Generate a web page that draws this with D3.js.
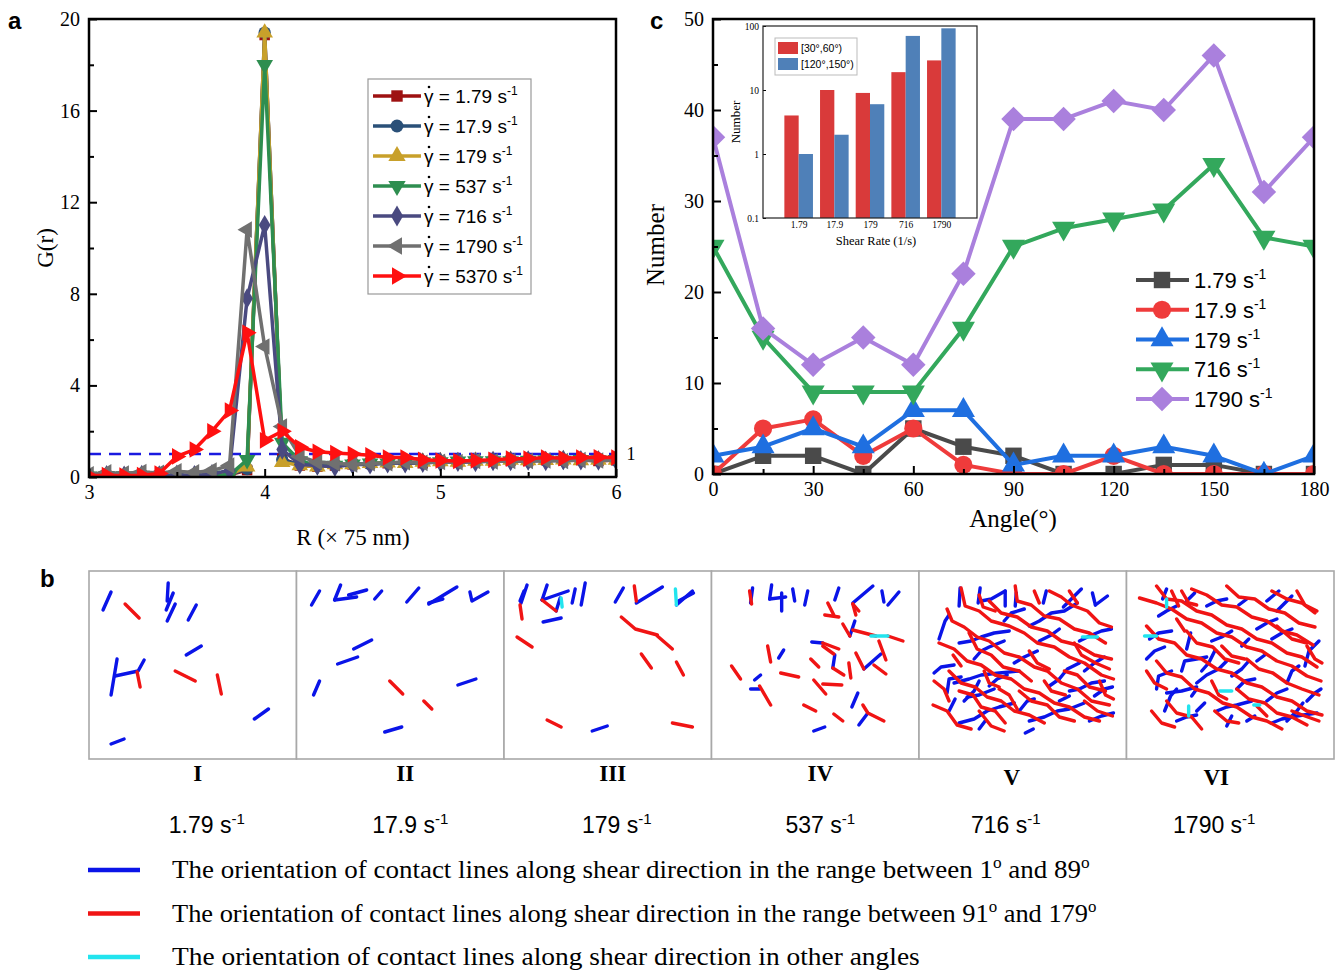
<!DOCTYPE html>
<html>
<head>
<meta charset="utf-8">
<title>Contact network under shear</title>
<script src="https://cdn.jsdelivr.net/npm/d3@7/dist/d3.min.js"></script>
<style>
  html, body { margin: 0; padding: 0; background: #fff; }
  svg { display: block; }
</style>
</head>
<body>
<svg id="fig" width="1344" height="974"></svg>
<script>
// ===== Panel a: radial distribution function G(r) =====
const rValues = [3.0, 3.1, 3.2, 3.3, 3.4, 3.5, 3.6, 3.7, 3.8, 3.9, 4.0, 4.1, 4.2, 4.3, 4.4, 4.5,
                 4.6, 4.7, 4.8, 4.9, 5.0, 5.1, 5.2, 5.3, 5.4, 5.5, 5.6, 5.7, 5.8, 5.9, 6.0];
const grShearRates = ["1.79", "17.9", "179", "537", "716", "1790", "5370"];
const gr_1_79 = [0.02, 0.05, 0.03, 0.06, 0.04, 0.05, 0.07, 0.05, 0.1, 0.3, 19.3, 0.8, 0.5, 0.45, 0.5, 0.55,
                 0.6, 0.6, 0.65, 0.6, 0.7, 0.65, 0.7, 0.7, 0.72, 0.7, 0.75, 0.72, 0.75, 0.7, 0.74];
const gr_17_9 = [0.03, 0.04, 0.06, 0.03, 0.05, 0.06, 0.04, 0.07, 0.12, 0.35, 19.4, 0.75, 0.55, 0.5, 0.5, 0.6,
                 0.55, 0.65, 0.6, 0.65, 0.65, 0.7, 0.68, 0.72, 0.7, 0.74, 0.72, 0.75, 0.73, 0.76, 0.72];
const gr_179 = [0.04, 0.06, 0.05, 0.05, 0.06, 0.04, 0.06, 0.06, 0.1, 0.45, 19.4, 0.65, 0.5, 0.45, 0.55, 0.55,
                0.6, 0.62, 0.6, 0.66, 0.68, 0.66, 0.7, 0.7, 0.74, 0.72, 0.73, 0.76, 0.72, 0.75, 0.74];
const gr_537 = [0.03, 0.05, 0.04, 0.06, 0.05, 0.06, 0.05, 0.07, 0.08, 0.75, 18.0, 1.5, 0.7, 0.5, 0.5, 0.55,
                0.6, 0.6, 0.62, 0.65, 0.65, 0.68, 0.7, 0.7, 0.7, 0.72, 0.74, 0.72, 0.75, 0.74, 0.75];
const gr_716 = [0.05, 0.08, 0.06, 0.09, 0.07, 0.1, 0.08, 0.12, 0.3, 7.8, 11.0, 1.2, 0.55, 0.5, 0.45, 0.55,
                0.55, 0.6, 0.6, 0.62, 0.65, 0.66, 0.65, 0.7, 0.7, 0.72, 0.7, 0.74, 0.73, 0.72, 0.75];
const gr_1790 = [0.12, 0.2, 0.15, 0.22, 0.18, 0.25, 0.2, 0.28, 0.5, 10.8, 5.7, 2.2, 0.9, 0.65, 0.6, 0.55,
                 0.6, 0.6, 0.65, 0.62, 0.66, 0.65, 0.7, 0.68, 0.7, 0.7, 0.72, 0.7, 0.74, 0.72, 0.74];
const gr_5370 = [0.05, 0.08, 0.06, 0.08, 0.15, 0.9, 1.2, 2.0, 2.9, 6.3, 1.6, 2.0, 1.3, 1.1, 1.05, 1.0,
                 0.95, 0.85, 0.85, 0.75, 0.72, 0.7, 0.72, 0.75, 0.8, 0.8, 0.85, 0.82, 0.85, 0.86, 0.85];
const grTicks = [0, 4, 8, 12, 16, 20];
const rTicks = [3, 4, 5, 6];

// ===== Panel c: number of contact lines per orientation angle =====
const angleValues = [0, 15, 30, 45, 60, 75, 90, 105, 120, 135, 150, 165, 180];
const angleShearRates = ["1.79", "17.9", "179", "716", "1790"];
const count_1_79 = [0, 2, 2, 0, 5, 3, 2, 0, 0, 1, 1, 0, 0];
const count_17_9 = [0, 5, 6, 2, 5, 1, 0, 0, 2, 0, 0, 0, 0];
const count_179 = [2, 3, 5, 3, 7, 7, 1, 2, 2, 3, 2, 0, 2];
const count_716 = [25, 15, 9, 9, 9, 16, 25, 27, 28, 29, 34, 26, 25];
const count_1790 = [37, 16, 12, 15, 12, 22, 39, 39, 41, 40, 46, 31, 37];
const angleTicks = [0, 30, 60, 90, 120, 150, 180];
const countTicks = [0, 10, 20, 30, 40, 50];

// inset: contacts inside two angular windows (log scale)
const insetRates = ["1.79", "17.9", "179", "716", "1790"];
const insetWindows = ["[30\u00b0,60\u00b0)", "[120\u00b0,150\u00b0)"];
const window_30_60 = [4, 10, 9, 19, 29];
const window_120_150 = [1, 2, 6, 70, 92];
const insetTicks = [0.1, 1, 10, 100];

// ===== Panel b: contact-line snapshots =====
// each contact: [orientation class, x0, y0, x1, y1, ...] in box units (207 x 188, y downward)
// A = 1°..89°, O = 91°..179°, X = other angles
const snapshotLabels = ["I", "II", "III", "IV", "V", "VI"];
const snapshotRates = ["1.79", "17.9", "179", "537", "716", "1790"];
const contactsI = [
  ["A", 14, 39, 22, 21], ["O", 36, 33, 50, 47], ["A", 78, 30, 79, 12], ["A", 77, 39, 84, 22],
  ["A", 78, 50, 86, 33], ["A", 99, 49, 107, 34], ["A", 97, 84, 112, 75], ["A", 22, 124, 28, 88],
  ["A", 26, 105, 49, 100, 55, 89], ["O", 48, 101, 51, 116], ["O", 86, 100, 106, 110],
  ["O", 128, 104, 132, 123], ["A", 165, 148, 179, 138], ["A", 22, 173, 35, 168]
];
const contactsII = [
  ["A", 15, 34, 23, 20], ["A", 38, 29, 44, 14], ["A", 38, 29, 60, 26], ["A", 52, 24, 70, 19],
  ["A", 78, 28, 85, 20], ["A", 110, 31, 122, 17], ["A", 132, 33, 160, 16], ["A", 132, 32, 146, 28],
  ["A", 173, 21, 175, 30, 191, 21], ["A", 57, 78, 75, 69], ["A", 41, 93, 61, 86], ["A", 17, 124, 23, 110],
  ["O", 93, 110, 106, 123], ["O", 127, 130, 135, 138], ["A", 161, 114, 179, 108], ["A", 88, 161, 105, 156]
];
const contactsIII = [
  ["A", 17, 32, 23, 14], ["A", 16, 30, 20, 20], ["O", 16, 34, 18, 48], ["A", 38, 29, 43, 14],
  ["A", 38, 29, 64, 20], ["O", 38, 29, 52, 40], ["A", 52, 40, 56, 27], ["X", 57, 27, 58, 36],
  ["A", 68, 32, 71, 18], ["A", 77, 34, 81, 12], ["A", 111, 31, 119, 17], ["O", 130, 15, 132, 30],
  ["A", 132, 32, 158, 16], ["X", 171, 18, 172, 34], ["A", 172, 34, 188, 20], ["A", 174, 30, 189, 22],
  ["A", 39, 51, 57, 47], ["O", 13, 66, 28, 76], ["O", 117, 46, 131, 58, 153, 64], ["O", 153, 65, 168, 78],
  ["O", 137, 83, 147, 97], ["O", 172, 91, 179, 104], ["O", 43, 149, 57, 156], ["A", 88, 160, 103, 155],
  ["O", 168, 152, 188, 156]
];
const contactsIV = [
  ["O", 38, 20, 40, 33], ["A", 39, 32, 41, 17], ["A", 58, 28, 60, 14], ["A", 58, 28, 74, 26],
  ["A", 70, 40, 70, 22], ["A", 81, 18, 83, 30], ["A", 93, 34, 96, 20], ["A", 123, 29, 127, 17],
  ["A", 141, 32, 161, 15], ["A", 138, 65, 143, 50], ["A", 170, 20, 172, 31], ["A", 176, 34, 187, 21],
  ["O", 116, 32, 122, 44], ["O", 113, 44, 127, 46], ["O", 141, 33, 144, 44], ["O", 141, 33, 147, 40],
  ["O", 131, 53, 138, 65], ["O", 141, 59, 164, 65], ["X", 159, 65, 176, 65], ["O", 176, 65, 191, 70],
  ["A", 100, 71, 111, 72], ["O", 111, 72, 127, 78], ["O", 111, 75, 122, 83], ["O", 56, 75, 59, 91],
  ["A", 67, 87, 72, 79], ["O", 20, 95, 29, 108], ["A", 43, 109, 49, 104], ["A", 39, 118, 48, 118],
  ["O", 48, 115, 59, 134], ["O", 69, 102, 87, 106], ["O", 99, 88, 107, 96], ["A", 121, 97, 123, 84],
  ["O", 121, 97, 132, 104], ["O", 137, 92, 139, 107], ["O", 144, 82, 152, 98], ["A", 152, 98, 169, 83],
  ["O", 162, 94, 174, 103], ["O", 167, 70, 174, 89], ["O", 102, 109, 114, 123], ["O", 111, 113, 130, 114],
  ["A", 140, 136, 146, 122], ["O", 92, 134, 104, 140], ["O", 122, 143, 131, 150],
  ["O", 151, 134, 156, 142, 172, 150], ["A", 147, 154, 156, 142], ["A", 102, 160, 113, 156]
];
const contactsV = [
  ["O", 28, 38, 33, 50, 45, 56, 58, 66, 70, 70, 85, 82, 100, 86, 115, 96, 128, 100, 142, 112, 158, 118, 172, 130, 190, 134],
  ["O", 42, 17, 46, 35, 60, 40, 72, 50, 90, 55, 105, 62, 118, 72, 135, 76, 150, 86, 165, 92, 182, 104, 194, 108],
  ["O", 96, 15, 98, 30, 112, 34, 125, 45, 140, 48, 155, 58, 170, 62, 186, 72],
  ["O", 70, 30, 82, 42, 98, 46, 112, 56, 128, 60, 142, 70, 158, 74, 175, 84, 192, 88],
  ["O", 20, 72, 35, 78, 48, 90, 62, 94, 76, 104, 92, 108, 105, 118, 120, 122, 135, 132, 150, 136, 165, 146, 180, 150],
  ["O", 30, 100, 42, 112, 56, 116, 68, 126, 82, 130, 95, 140, 110, 144, 125, 152],
  ["O", 14, 134, 28, 140, 38, 154, 52, 158],
  ["O", 40, 120, 54, 124, 62, 136, 76, 140, 86, 152],
  ["O", 50, 62, 58, 78, 72, 84, 84, 96, 100, 100, 112, 110],
  ["O", 130, 20, 142, 26, 152, 34, 168, 40, 180, 52, 192, 56],
  ["O", 100, 120, 112, 130, 128, 134, 140, 146, 155, 150],
  ["O", 145, 100, 158, 104, 170, 116, 186, 120],
  ["O", 165, 130, 178, 140, 193, 145],
  ["O", 60, 140, 72, 155, 85, 160],
  ["O", 80, 118, 90, 124, 98, 138],
  ["O", 155, 72, 162, 84, 176, 92, 190, 98],
  ["O", 34, 84, 42, 95], ["O", 110, 80, 118, 92, 130, 98], ["O", 60, 24, 64, 36, 76, 40],
  ["O", 125, 110, 132, 120, 146, 124], ["O", 15, 110, 25, 118, 30, 130], ["O", 115, 20, 120, 32],
  ["O", 180, 110, 186, 124, 194, 128], ["O", 150, 20, 158, 32], ["O", 65, 100, 70, 112, 80, 116],
  ["A", 40, 35, 41, 17], ["A", 59, 32, 61, 17], ["A", 62, 30, 72, 28, 86, 20], ["A", 86, 35, 86, 20],
  ["A", 96, 35, 97, 22], ["A", 124, 32, 127, 20], ["A", 144, 36, 152, 28, 162, 18], ["A", 176, 34, 188, 25],
  ["A", 173, 22, 176, 34], ["A", 20, 68, 26, 50, 30, 44], ["A", 40, 72, 52, 70, 62, 66, 75, 62, 90, 60],
  ["A", 35, 112, 50, 108, 62, 104, 80, 102, 100, 100], ["A", 55, 88, 62, 80, 70, 76, 85, 70],
  ["A", 110, 55, 120, 50, 132, 42, 145, 40, 158, 32], ["A", 160, 70, 170, 65, 182, 60, 192, 58],
  ["A", 45, 130, 55, 120, 60, 110], ["A", 40, 152, 55, 148, 68, 140, 80, 136, 95, 132],
  ["A", 110, 150, 125, 146, 138, 140, 150, 138, 165, 132], ["A", 130, 115, 140, 108, 148, 98, 160, 92],
  ["A", 170, 150, 182, 145, 194, 142], ["A", 106, 162, 114, 158], ["A", 70, 115, 78, 108, 88, 104],
  ["A", 150, 120, 160, 118, 172, 112, 185, 110], ["A", 140, 130, 150, 125], ["A", 28, 122, 30, 108, 42, 106],
  ["A", 15, 102, 22, 96, 35, 94], ["A", 48, 126, 60, 124, 75, 118], ["A", 95, 92, 105, 86, 118, 80],
  ["A", 120, 70, 132, 64, 140, 58], ["A", 165, 100, 175, 92, 185, 86], ["A", 100, 140, 108, 130, 115, 128],
  ["A", 60, 158, 66, 150], ["A", 175, 125, 185, 118, 193, 116], ["A", 30, 140, 36, 128],
  ["A", 85, 50, 92, 42, 105, 38],
  ["X", 163, 66, 178, 66]
];
const contactsVI = [
  ["O", 13, 27, 30, 32, 45, 38, 60, 48, 75, 52, 90, 62, 105, 66, 120, 76, 135, 80, 150, 90, 165, 95, 180, 105, 194, 110],
  ["O", 30, 15, 40, 28, 55, 30, 70, 40, 85, 44, 100, 54, 115, 58, 130, 68, 145, 72, 160, 82, 175, 86, 190, 96],
  ["O", 65, 18, 80, 24, 95, 34, 110, 36, 125, 46, 140, 50, 155, 60, 170, 64, 186, 74],
  ["O", 100, 15, 112, 26, 128, 28, 142, 38, 158, 42, 172, 52, 188, 56],
  ["O", 20, 55, 32, 68, 48, 72, 60, 84, 75, 88, 90, 98, 105, 102, 120, 112, 135, 116, 150, 126, 165, 130, 180, 140, 195, 144],
  ["O", 30, 90, 40, 102, 55, 106, 68, 118, 82, 122, 96, 132, 110, 136, 125, 146, 140, 150, 155, 158],
  ["O", 40, 130, 50, 142, 65, 146, 75, 158],
  ["O", 145, 20, 160, 28, 175, 32, 188, 42],
  ["O", 20, 100, 28, 112, 40, 118],
  ["O", 110, 118, 122, 128, 138, 132, 150, 142, 165, 146, 180, 154],
  ["O", 60, 60, 70, 72, 86, 76, 98, 88, 112, 92],
  ["O", 120, 88, 132, 98, 146, 102, 160, 112, 175, 118, 192, 124],
  ["O", 170, 20, 178, 34, 190, 40], ["O", 88, 140, 100, 150, 112, 152], ["O", 150, 55, 165, 68, 180, 72],
  ["O", 165, 140, 178, 145, 192, 150], ["O", 45, 20, 52, 35], ["O", 130, 135, 140, 145],
  ["O", 50, 48, 58, 60], ["O", 95, 75, 105, 85, 118, 88], ["O", 25, 140, 35, 152, 48, 156],
  ["O", 180, 75, 188, 88, 195, 92], ["O", 85, 110, 92, 124, 100, 128], ["O", 55, 20, 62, 32, 70, 34],
  ["A", 32, 45, 40, 40, 50, 35], ["A", 36, 28, 40, 18], ["A", 60, 30, 68, 22], ["A", 80, 35, 90, 30, 100, 28],
  ["A", 112, 34, 120, 28], ["A", 140, 30, 152, 20], ["A", 150, 40, 158, 32, 165, 25], ["A", 23, 68, 32, 62, 45, 60],
  ["A", 60, 78, 64, 62], ["A", 55, 100, 58, 90, 70, 88, 80, 86], ["A", 70, 112, 80, 104, 92, 98, 100, 90],
  ["A", 85, 70, 95, 66, 105, 60], ["A", 130, 58, 140, 52, 150, 48], ["A", 178, 95, 182, 80, 192, 70],
  ["A", 38, 140, 44, 125, 50, 118], ["A", 40, 122, 55, 120, 70, 116], ["A", 90, 140, 100, 136, 110, 134, 125, 130],
  ["A", 110, 118, 118, 110, 128, 108], ["A", 140, 130, 150, 122, 160, 118], ["A", 120, 150, 128, 145],
  ["A", 145, 152, 155, 148, 170, 145, 190, 142], ["A", 100, 155, 105, 145], ["A", 70, 140, 78, 132],
  ["A", 130, 90, 138, 84], ["A", 30, 118, 32, 105, 45, 100], ["A", 160, 112, 165, 100, 172, 95],
  ["A", 20, 88, 28, 80, 38, 76], ["A", 50, 150, 60, 146, 70, 144], ["A", 75, 100, 82, 92, 88, 80],
  ["A", 105, 105, 115, 98, 122, 90], ["A", 160, 150, 170, 140, 176, 132], ["A", 180, 130, 188, 122, 194, 118],
  ["A", 65, 125, 70, 118], ["A", 145, 68, 155, 62, 165, 58], ["A", 115, 75, 122, 68],
  ["X", 18, 65, 30, 65], ["X", 93, 120, 105, 120], ["X", 62, 135, 62, 145], ["X", 127, 134, 133, 134],
  ["X", 40, 28, 40, 36]
];
const orientationClasses = ["A", "O", "X"];
const orientationLegend = [
  ["The orientation of contact lines along shear direction in the range between 1", "o", " and 89", "o"],
  ["The orientation of contact lines along shear direction in the range between 91", "o", " and 179", "o"],
  ["The orientation of contact lines along shear direction in other angles"]
];

// ================= drawing =================
const svg = d3.select("#fig");
const SERIF = "'Liberation Serif','Times New Roman',Times,serif";
const SANS = "'Liberation Sans',Arial,Helvetica,sans-serif";
const defs = svg.append("defs");

const SHAPE = {
  square: [d3.symbolSquare, 0], circle: [d3.symbolCircle, 0], up: [d3.symbolTriangle, 0],
  down: [d3.symbolTriangle, 180], diamond: [d3.symbolDiamond, 0], diamondSq: [d3.symbolSquare, 45],
  left: [d3.symbolTriangle, -90], right: [d3.symbolTriangle, 90]
};
function symPath(shape, size) { return d3.symbol().type(SHAPE[shape][0]).size(size)(); }
function symRot(shape) { return SHAPE[shape][1]; }

function styleAxis(g, size) {
  g.select(".domain").remove();
  g.selectAll("text").attr("font-family", SERIF).attr("font-size", size).attr("fill", "#000");
  g.selectAll(".tick line").attr("stroke", "#000").attr("stroke-width", 2);
}
function rateText(sel, prefix, rate, supSize, rise) {
  sel.append("tspan").text(prefix + rate + " s");
  sel.append("tspan").attr("dy", -rise).attr("font-size", supSize).text("-1");
}
function panelLetter(x, y, t) {
  svg.append("text").attr("x", x).attr("y", y).attr("font-family", SANS)
    .attr("font-weight", "bold").attr("font-size", 24).text(t);
}

// ---------- panel a ----------
const PA = { l: 89, r: 616, t: 19, b: 477 };
const xA = d3.scaleLinear().domain([3, 6]).range([PA.l, PA.r]);
const yA = d3.scaleLinear().domain([0, 20]).range([PA.b, PA.t]);
defs.append("clipPath").attr("id", "clip-a").append("rect")
  .attr("x", PA.l).attr("y", PA.t).attr("width", PA.r - PA.l).attr("height", PA.b - PA.t);

const grSeries = [gr_1_79, gr_17_9, gr_179, gr_537, gr_716, gr_1790, gr_5370];
const grColors = ["#9e1111", "#2a5078", "#c8a02a", "#2e8e50", "#4a4a80", "#707070", "#ff1010"];
const grShapes = ["square", "circle", "up", "down", "diamond", "left", "right"];
const grSizes = [110, 120, 120, 120, 120, 120, 120];

const plotA = svg.append("g").attr("clip-path", "url(#clip-a)");
plotA.append("line").attr("x1", PA.l).attr("x2", PA.r).attr("y1", yA(1)).attr("y2", yA(1))
  .attr("stroke", "#1a1ae0").attr("stroke-width", 2.5).attr("stroke-dasharray", "12,8");
const lineA = d3.line().x((d, i) => xA(rValues[i])).y(d => yA(d));
grSeries.forEach((vals, k) => {
  const g = plotA.append("g");
  g.append("path").datum(vals).attr("d", lineA).attr("fill", "none")
    .attr("stroke", grColors[k]).attr("stroke-width", 3.5).attr("stroke-linejoin", "round");
  g.selectAll("path.mk").data(vals).join("path").attr("class", "mk")
    .attr("d", symPath(grShapes[k], grSizes[k]))
    .attr("transform", (d, i) => `translate(${xA(rValues[i])},${yA(d)}) rotate(${symRot(grShapes[k])})`)
    .attr("fill", grColors[k]);
});
svg.append("text").attr("x", 631).attr("y", yA(1) + 6).attr("text-anchor", "middle")
  .attr("font-family", SERIF).attr("font-size", 18).text("1");

svg.append("g").attr("transform", `translate(0,${PA.b})`)
  .call(d3.axisBottom(xA).tickValues(rTicks).tickFormat(d3.format("d")).tickSizeInner(-8).tickSizeOuter(0).tickPadding(8))
  .call(styleAxis, 20);
svg.append("g").attr("transform", `translate(0,${PA.b})`)
  .call(d3.axisBottom(xA).tickValues([3.5, 4.5, 5.5]).tickFormat("").tickSizeInner(-5).tickSizeOuter(0))
  .call(styleAxis, 20);
svg.append("g").attr("transform", `translate(${PA.l},0)`)
  .call(d3.axisLeft(yA).tickValues(grTicks).tickFormat(d3.format("d")).tickSizeInner(-8).tickSizeOuter(0).tickPadding(9))
  .call(styleAxis, 20);
svg.append("g").attr("transform", `translate(${PA.l},0)`)
  .call(d3.axisLeft(yA).tickValues([2, 6, 10, 14, 18]).tickFormat("").tickSizeInner(-5).tickSizeOuter(0))
  .call(styleAxis, 20);
svg.append("rect").attr("x", PA.l).attr("y", PA.t).attr("width", PA.r - PA.l).attr("height", PA.b - PA.t)
  .attr("fill", "none").attr("stroke", "#000").attr("stroke-width", 2.5);

svg.append("text").attr("transform", "translate(45,248) rotate(-90)").attr("text-anchor", "middle")
  .attr("dy", "0.35em").attr("font-family", SERIF).attr("font-size", 23).text("G(r)");
svg.append("text").attr("x", 353).attr("y", 545).attr("text-anchor", "middle")
  .attr("font-family", SERIF).attr("font-size", 23).text("R (\u00d7 75 nm)");
panelLetter(8, 29, "a");

// legend a
const legA = svg.append("g");
legA.append("rect").attr("x", 368).attr("y", 79).attr("width", 163).attr("height", 215)
  .attr("fill", "#fff").attr("stroke", "#999").attr("stroke-width", 1.2);
const legAy = d3.scalePoint().domain(grShearRates).range([96, 276]);
grShearRates.forEach((rate, k) => {
  const y = legAy(rate);
  legA.append("line").attr("x1", 373).attr("x2", 421).attr("y1", y).attr("y2", y)
    .attr("stroke", grColors[k]).attr("stroke-width", 3.5);
  legA.append("path").attr("d", symPath(grShapes[k], 130))
    .attr("transform", `translate(397,${y}) rotate(${symRot(grShapes[k])})`).attr("fill", grColors[k]);
  const t = legA.append("text").attr("x", 424).attr("y", y + 7).attr("font-family", SANS).attr("font-size", 19);
  rateText(t, "\u03b3 = ", rate, 12, 8);
  // time-derivative dot above the gamma
  legA.append("circle").attr("cx", 429).attr("cy", y - 9).attr("r", 1.3).attr("fill", "#000");
});

// ---------- panel c ----------
const PC = { l: 713, r: 1314, t: 19, b: 474 };
const xC = d3.scaleLinear().domain([0, 180]).range([PC.l, PC.r]);
const yC = d3.scaleLinear().domain([0, 50]).range([PC.b, PC.t]);
defs.append("clipPath").attr("id", "clip-c").append("rect")
  .attr("x", PC.l).attr("y", PC.t).attr("width", PC.r - PC.l).attr("height", PC.b - PC.t);

const countSeries = [count_1_79, count_17_9, count_179, count_716, count_1790];
const countColors = ["#4a4a4a", "#ef3b3b", "#1f6fe0", "#33a85c", "#aa80dd"];
const countShapes = ["square", "circle", "up", "down", "diamondSq"];
const countSizes = [270, 260, 230, 230, 300];

const plotC = svg.append("g").attr("clip-path", "url(#clip-c)");
const lineC = d3.line().x((d, i) => xC(angleValues[i])).y(d => yC(d));
countSeries.forEach((vals, k) => {
  const g = plotC.append("g");
  g.append("path").datum(vals).attr("d", lineC).attr("fill", "none")
    .attr("stroke", countColors[k]).attr("stroke-width", 4).attr("stroke-linejoin", "round");
  g.selectAll("path.mk").data(vals).join("path").attr("class", "mk")
    .attr("d", symPath(countShapes[k], countSizes[k]))
    .attr("transform", (d, i) => `translate(${xC(angleValues[i])},${yC(d)}) rotate(${symRot(countShapes[k])})`)
    .attr("fill", countColors[k]);
});

svg.append("g").attr("transform", `translate(0,${PC.b})`)
  .call(d3.axisBottom(xC).tickValues(angleTicks).tickSizeInner(-8).tickSizeOuter(0).tickPadding(8))
  .call(styleAxis, 20);
svg.append("g").attr("transform", `translate(0,${PC.b})`)
  .call(d3.axisBottom(xC).tickValues([15, 45, 75, 105, 135, 165]).tickFormat("").tickSizeInner(-5).tickSizeOuter(0))
  .call(styleAxis, 20);
svg.append("g").attr("transform", `translate(${PC.l},0)`)
  .call(d3.axisLeft(yC).tickValues(countTicks).tickSizeInner(-8).tickSizeOuter(0).tickPadding(9))
  .call(styleAxis, 20);
svg.append("g").attr("transform", `translate(${PC.l},0)`)
  .call(d3.axisLeft(yC).tickValues([5, 15, 25, 35, 45]).tickFormat("").tickSizeInner(-5).tickSizeOuter(0))
  .call(styleAxis, 20);
svg.append("rect").attr("x", PC.l).attr("y", PC.t).attr("width", PC.r - PC.l).attr("height", PC.b - PC.t)
  .attr("fill", "none").attr("stroke", "#000").attr("stroke-width", 2.5);

svg.append("text").attr("transform", "translate(655,245) rotate(-90)").attr("text-anchor", "middle")
  .attr("dy", "0.35em").attr("font-family", SERIF).attr("font-size", 25).text("Number");
svg.append("text").attr("x", 1013).attr("y", 527).attr("text-anchor", "middle")
  .attr("font-family", SERIF).attr("font-size", 25).text("Angle(\u00b0)");
panelLetter(650, 29, "c");

// legend c
const legC = svg.append("g");
const legCy = d3.scalePoint().domain(angleShearRates).range([280, 399]);
angleShearRates.forEach((rate, k) => {
  const y = legCy(rate);
  legC.append("line").attr("x1", 1136).attr("x2", 1189).attr("y1", y).attr("y2", y)
    .attr("stroke", countColors[k]).attr("stroke-width", 4);
  legC.append("path").attr("d", symPath(countShapes[k], countSizes[k]))
    .attr("transform", `translate(1162,${y}) rotate(${symRot(countShapes[k])})`).attr("fill", countColors[k]);
  const t = legC.append("text").attr("x", 1194).attr("y", y + 8).attr("font-family", SANS).attr("font-size", 22);
  rateText(t, "", rate, 14, 9);
});

// inset (log-scale bars)
const PI = { l: 763, r: 977, t: 26, b: 218 };
const xI = d3.scalePoint().domain(insetRates).range([PI.l, PI.r]).padding(1);
const yI = d3.scaleLog().domain([0.1, 100]).range([PI.b, PI.t]);
const inset = svg.append("g");
inset.append("rect").attr("x", PI.l).attr("y", PI.t).attr("width", PI.r - PI.l).attr("height", PI.b - PI.t)
  .attr("fill", "#fff");
const barW = 14.3;
const insetSeries = [window_30_60, window_120_150];
const insetColors = ["#d93a3a", "#4f80b8"];
insetSeries.forEach((vals, k) => {
  inset.selectAll(null).data(vals).join("rect")
    .attr("x", (d, i) => xI(insetRates[i]) + (k === 0 ? -barW : 0))
    .attr("y", d => yI(d)).attr("width", barW).attr("height", d => PI.b - yI(d))
    .attr("fill", insetColors[k]);
});
inset.append("g").attr("transform", `translate(${PI.l},0)`)
  .call(d3.axisLeft(yI).tickValues(insetTicks).tickFormat(d => String(d)).tickSizeInner(-3).tickSizeOuter(0).tickPadding(4))
  .call(g => {
    g.select(".domain").remove();
    g.selectAll("text").attr("font-family", SERIF).attr("font-size", 9.5).attr("fill", "#000");
    g.selectAll(".tick line").attr("stroke", "#000");
  });
inset.append("g").attr("transform", `translate(0,${PI.b})`)
  .call(d3.axisBottom(xI).tickSizeInner(0).tickSizeOuter(0).tickPadding(3))
  .call(g => {
    g.select(".domain").remove();
    g.selectAll("text").attr("font-family", SERIF).attr("font-size", 9.5).attr("fill", "#000");
  });
inset.append("rect").attr("x", PI.l).attr("y", PI.t).attr("width", PI.r - PI.l).attr("height", PI.b - PI.t)
  .attr("fill", "none").attr("stroke", "#222").attr("stroke-width", 1.2);
inset.append("text").attr("x", 876).attr("y", 245).attr("text-anchor", "middle")
  .attr("font-family", SERIF).attr("font-size", 12.5).text("Shear Rate (1/s)");
inset.append("text").attr("transform", "translate(735,122) rotate(-90)").attr("text-anchor", "middle")
  .attr("dy", "0.35em").attr("font-family", SERIF).attr("font-size", 13).text("Number");
const legI = inset.append("g");
legI.append("rect").attr("x", 775).attr("y", 38).attr("width", 82).attr("height", 37)
  .attr("fill", "#fff").attr("stroke", "#bbb");
insetWindows.forEach((w, k) => {
  legI.append("rect").attr("x", 778).attr("y", 42 + k * 16).attr("width", 20).attr("height", 12).attr("fill", insetColors[k]);
  legI.append("text").attr("x", 801).attr("y", 52 + k * 16).attr("font-family", SANS).attr("font-size", 10.5).text(w);
});

// ---------- panel b ----------
const contactSets = [contactsI, contactsII, contactsIII, contactsIV, contactsV, contactsVI];
const classColor = { A: "#0a14e8", O: "#f01414", X: "#22e4ee" };
const boxBand = d3.scaleBand().domain(snapshotLabels).range([89, 1334]);
const boxTop = 571, boxH = 188;
const numeralShift = [5, 5, 5, 5, -11, -14];
const numeralY = [781, 781, 781, 781, 785, 785];
const rateShift = [14, 10, 9, 5, -17, -16];

snapshotLabels.forEach((lab, k) => {
  const x0 = boxBand(lab), w = boxBand.bandwidth();
  const sx = d3.scaleLinear().domain([0, 207]).range([x0, x0 + w]);
  const sy = d3.scaleLinear().domain([0, 188]).range([boxTop, boxTop + boxH]);
  const g = svg.append("g");
  g.append("rect").attr("x", x0).attr("y", boxTop).attr("width", w).attr("height", boxH)
    .attr("fill", "#fff").attr("stroke", "#a8a8a8").attr("stroke-width", 1.6);
  const line = d3.line().x(p => sx(p[0])).y(p => sy(p[1]));
  orientationClasses.forEach(cls => {
    contactSets[k].filter(c => c[0] === cls).forEach(c => {
      const pts = [];
      for (let i = 1; i < c.length; i += 2) pts.push([c[i], c[i + 1]]);
      g.append("path").attr("d", line(pts)).attr("fill", "none").attr("stroke", classColor[cls])
        .attr("stroke-width", 3.4).attr("stroke-linecap", "round").attr("stroke-linejoin", "round");
    });
  });
  const cx = x0 + w / 2;
  svg.append("text").attr("x", cx + numeralShift[k]).attr("y", numeralY[k]).attr("text-anchor", "middle")
    .attr("font-family", SERIF).attr("font-weight", "bold").attr("font-size", 23).text(lab);
  const t = svg.append("text").attr("x", cx + rateShift[k]).attr("y", 833).attr("text-anchor", "middle")
    .attr("font-family", SANS).attr("font-size", 23);
  rateText(t, "", snapshotRates[k], 15, 9);
});
panelLetter(40, 587, "b");

// orientation legend
const legRows = d3.scalePoint().domain(orientationClasses).range([870, 957]);
const legWidths = [918, 925, 748];
orientationClasses.forEach((cls, k) => {
  const y = legRows(cls);
  svg.append("line").attr("x1", 88).attr("x2", 140).attr("y1", y).attr("y2", y)
    .attr("stroke", classColor[cls]).attr("stroke-width", 4.5);
  const t = svg.append("text").attr("font-family", SERIF).attr("font-size", 25);
  const parts = orientationLegend[k];
  parts.forEach((p, j) => {
    const ts = t.append("tspan").text(p);
    if (j % 2 === 1) ts.attr("dy", -10).attr("font-size", 16);
    else if (j > 0) ts.attr("dy", 10);
  });
  const natural = t.node().getComputedTextLength();
  t.attr("transform", `translate(172,${y + 8}) scale(${legWidths[k] / natural},1)`);
});
</script>
</body>
</html>
